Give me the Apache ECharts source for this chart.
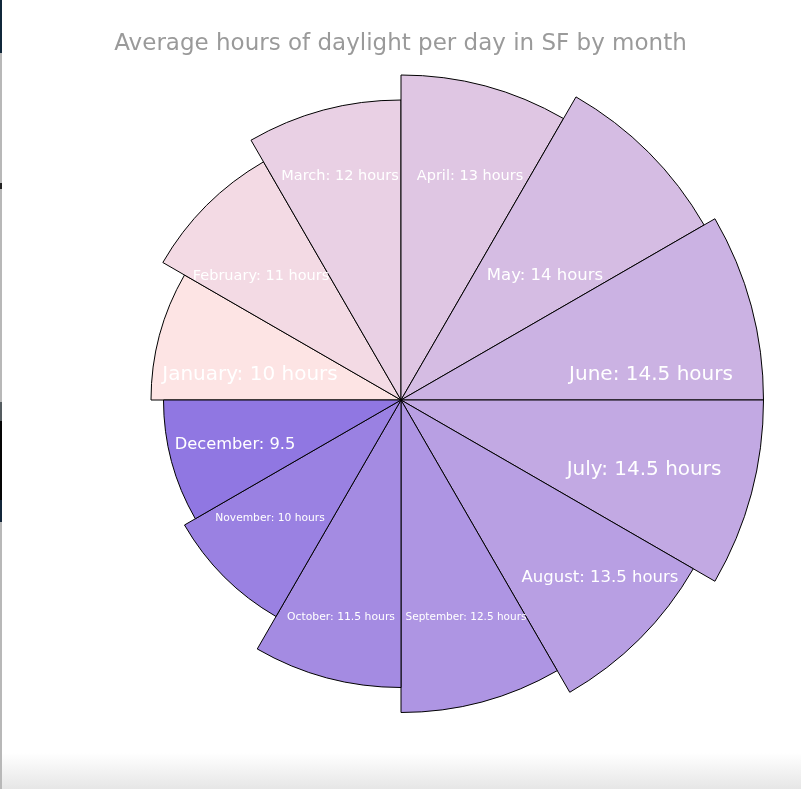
<!DOCTYPE html>
<html>
<head>
<meta charset="utf-8">
<style>
  html, body { margin: 0; padding: 0; background: #ffffff; }
  #chart { width: 801px; height: 789px; }
</style>
<script src="https://cdn.jsdelivr.net/npm/echarts@6/dist/echarts.min.js"></script>
</head>
<body>
<div id="chart"></div>
<script>
// ---- data ----
const months = ['January', 'February', 'March', 'April', 'May', 'June',
                'July', 'August', 'September', 'October', 'November', 'December'];
const hours = [10, 11, 12, 13, 14, 14.5, 14.5, 13.5, 12.5, 11.5, 10, 9.5];
const labelTexts = ['January: 10 hours', 'February: 11 hours', 'March: 12 hours', 'April: 13 hours',
                    'May: 14 hours', 'June: 14.5 hours', 'July: 14.5 hours', 'August: 13.5 hours',
                    'September: 12.5 hours', 'October: 11.5 hours', 'November: 10 hours', 'December: 9.5'];

// ---- styles ----
const colors = ['#fde4e4', '#f3dae4', '#e9d0e4', '#dfc6e3', '#d5bce3', '#cbb2e3',
                '#c2a9e3', '#b89fe3', '#ae95e3', '#a48be2', '#9a81e2', '#9077e2'];
const labelSizes = [20, 14.5, 14.5, 14.5, 16.5, 20, 20, 16.5, 10.5, 10.8, 10.7, 16.3];
// label anchor offsets from the chart centre (px)
const labelOffsets = [[-151, -25], [-140, -124], [-61, -224], [69, -224], [144, -124], [250, -25],
                      [243, 70], [199, 178], [65, 217], [-60, 217], [-131, 118], [-166, 45]];
const cx = 401, cy = 400, rMax = 362.5;

const chart = echarts.init(document.getElementById('chart'), null, { renderer: 'canvas' });

const option = {
  animation: false,
  backgroundColor: '#ffffff',
  title: {
    text: 'Average hours of daylight per day in SF by month',
    left: 'center',
    top: 28,
    textStyle: { color: '#9a9a9a', fontSize: 23, fontWeight: 'normal', fontFamily: 'DejaVu Sans' }
  },
  graphic: [
    { type: 'rect', left: 0, bottom: 0, shape: { width: 801, height: 36 }, silent: true, z: -10,
      style: { fill: new echarts.graphic.LinearGradient(0, 0, 0, 1,
        [{ offset: 0, color: '#ffffff' }, { offset: 1, color: '#e6e6e6' }]) } },
    { type: 'rect', shape: { x: 0, y: 0, width: 2, height: 789 }, silent: true, style: { fill: '#b8b8b8' } },
    { type: 'rect', shape: { x: 0, y: 0, width: 2, height: 53 }, silent: true, style: { fill: '#10273a' } },
    { type: 'rect', shape: { x: 0, y: 183, width: 2, height: 6 }, silent: true, style: { fill: '#222222' } },
    { type: 'rect', shape: { x: 0, y: 402, width: 2, height: 19 }, silent: true, style: { fill: '#555c60' } },
    { type: 'rect', shape: { x: 0, y: 421, width: 2, height: 79 }, silent: true, style: { fill: '#050505' } },
    { type: 'rect', shape: { x: 0, y: 500, width: 2, height: 22 }, silent: true, style: { fill: '#13263a' } }
  ],
  series: [{
    type: 'pie',
    roseType: 'area',
    center: [cx, cy],
    radius: [0, rMax],
    startAngle: 180,
    clockwise: true,
    avoidLabelOverlap: false,
    silent: true,
    itemStyle: { borderColor: '#000000', borderWidth: 1 },
    label: {
      show: true,
      position: 'inside',
      color: '#ffffff',
      fontFamily: 'DejaVu Sans',
      formatter: p => labelTexts[p.dataIndex]
    },
    labelLine: { show: false },
    labelLayout: p => ({
      x: cx + labelOffsets[p.dataIndex][0],
      y: cy + labelOffsets[p.dataIndex][1],
      align: 'center',
      verticalAlign: 'middle'
    }),
    data: months.map((m, i) => ({
      name: m,
      value: hours[i],
      itemStyle: { color: colors[i] },
      label: { fontSize: labelSizes[i] }
    }))
  }]
};
chart.setOption(option);
</script>
</body>
</html>
